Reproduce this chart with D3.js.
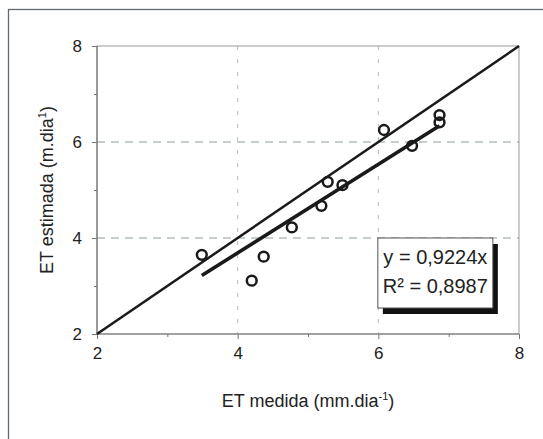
<!DOCTYPE html>
<html>
<head>
<meta charset="utf-8">
<script src="https://cdn.jsdelivr.net/npm/d3@7"></script>
<style>
  body { margin: 0; background: #fff; }
  svg { display: block; font-family: "Liberation Sans", Arial, sans-serif; }
</style>
</head>
<body>
<svg id="chart" width="543" height="439"></svg>
<script>
// ET medida (x) vs ET estimada (y)
var etMedida   = [3.49, 4.20, 4.37, 4.77, 5.19, 5.28, 5.49, 6.08, 6.48, 6.87, 6.87]
var etEstimada = [3.65, 3.11, 3.61, 4.22, 4.67, 5.17, 5.10, 6.25, 5.92, 6.56, 6.41]
var majorTicks = [2, 4, 6, 8]
var minorTicks = [3, 5, 7]
var gridTicks = [4, 6]
var slope = 0.9224
var rSquared = "0,8987"

var svg = d3.select("#chart")
// note: "top" is taken by window.top, so use plot* names
var plotLeft = 97, plotRight = 519, plotTop = 46, plotBottom = 334

var x = d3.scaleLinear().domain([2, 8]).range([plotLeft, plotRight])
var y = d3.scaleLinear().domain([2, 8]).range([plotBottom, plotTop])

// outer chart frame (cut off at right and bottom)
svg.append("rect")
    .attr("x", 8.5).attr("y", 9.5)
    .attr("width", 560).attr("height", 460)
    .attr("fill", "none")
    .attr("stroke", "#5f6b70")
    .attr("stroke-width", 1.3)

// plot area border
svg.append("rect")
    .attr("x", plotLeft).attr("y", plotTop)
    .attr("width", plotRight - plotLeft).attr("height", plotBottom - plotTop)
    .attr("fill", "#fff")
    .attr("stroke", "#9a9a9a")
    .attr("stroke-width", 1)

// gridlines
var grid = svg.append("g").attr("id", "grid")
grid.selectAll("line.h")
    .data(gridTicks)
    .enter()
    .append("line")
    .attr("class", "h")
    .attr("x1", plotLeft).attr("x2", plotRight)
    .attr("y1", function(d) { return y(d) }).attr("y2", function(d) { return y(d) })
    .attr("stroke", "#8a9a9a")
    .attr("stroke-dasharray", "8,6")
grid.selectAll("line.v")
    .data(gridTicks)
    .enter()
    .append("line")
    .attr("class", "v")
    .attr("y1", plotTop).attr("y2", plotBottom)
    .attr("x1", function(d) { return x(d) }).attr("x2", function(d) { return x(d) })
    .attr("stroke", "#b5bcbc")
    .attr("stroke-dasharray", "4,9")

// axes
var fmt = d3.format("d")
var xAxis = d3.axisBottom(x).tickValues(majorTicks).tickFormat(fmt).tickSize(5).tickPadding(8)
var yAxis = d3.axisLeft(y).tickValues(majorTicks).tickFormat(fmt).tickSize(5).tickPadding(10)

function styleAxis(g) {
    g.select(".domain").attr("stroke", "#777").attr("stroke-width", 1.2)
    g.selectAll(".tick line").attr("stroke", "#777")
    g.selectAll(".tick text")
        .attr("fill", "#222")
        .attr("font-size", "17px")
        .attr("font-family", "Liberation Sans, Arial, sans-serif")
}

svg.append("g")
    .attr("transform", "translate(0," + plotBottom + ")")
    .call(xAxis)
    .call(styleAxis)
    .call(function(g) { g.select(".domain").attr("d", "M" + plotLeft + ",0H" + plotRight) })

svg.append("g")
    .attr("transform", "translate(" + plotLeft + ",0)")
    .call(yAxis)
    .call(styleAxis)
    .call(function(g) { g.select(".domain").attr("d", "M0," + plotBottom + "V" + plotTop) })

// minor ticks
svg.append("g")
    .attr("transform", "translate(0," + plotBottom + ")")
    .call(d3.axisBottom(x).tickValues(minorTicks).tickSize(3).tickFormat(""))
    .call(function(g) { g.select(".domain").remove(); g.selectAll("line").attr("stroke", "#777") })
svg.append("g")
    .attr("transform", "translate(" + plotLeft + ",0)")
    .call(d3.axisLeft(y).tickValues(minorTicks).tickSize(3).tickFormat(""))
    .call(function(g) { g.select(".domain").remove(); g.selectAll("line").attr("stroke", "#777") })

// 1:1 line
svg.append("line")
    .attr("x1", x(2)).attr("y1", y(2))
    .attr("x2", x(8)).attr("y2", y(8))
    .attr("stroke", "#1a1a1a")
    .attr("stroke-width", 2.5)

// regression line y = slope * x over the data range
var xr = d3.extent(etMedida)
svg.append("line")
    .attr("x1", x(xr[0])).attr("y1", y(slope * xr[0]))
    .attr("x2", x(xr[1])).attr("y2", y(slope * xr[1]))
    .attr("stroke", "#1a1a1a")
    .attr("stroke-width", 3.6)

// points
svg.append("g")
    .selectAll("circle")
    .data(d3.range(etMedida.length))
    .enter()
    .append("circle")
    .attr("cx", function(i) { return x(etMedida[i]) })
    .attr("cy", function(i) { return y(etEstimada[i]) })
    .attr("r", 4.9)
    .attr("fill", "none")
    .attr("stroke", "#1a1a1a")
    .attr("stroke-width", 2.5)

// equation box with shadow
var bx = x(6.05) - 4, by = y(4), bw = 115, bh = 70
var legend = svg.append("g").attr("id", "legend")
legend.append("rect")
    .attr("x", bx + 5).attr("y", by + 6)
    .attr("width", bw).attr("height", bh)
    .attr("fill", "#111")
legend.append("rect")
    .attr("x", bx).attr("y", by)
    .attr("width", bw).attr("height", bh)
    .attr("fill", "#fff")
    .attr("stroke", "#555")
    .attr("stroke-width", 1)
legend.append("text")
    .attr("x", bx + bw / 2).attr("y", by + 26)
    .attr("text-anchor", "middle")
    .attr("font-size", "20px")
    .attr("fill", "#222")
    .text("y = " + String(slope).replace(".", ",") + "x")
legend.append("text")
    .attr("x", bx + bw / 2).attr("y", by + 55)
    .attr("text-anchor", "middle")
    .attr("font-size", "20px")
    .attr("fill", "#222")
    .text("R² = " + rSquared)

// axis titles
var xt = svg.append("text")
    .attr("x", (plotLeft + plotRight) / 2).attr("y", 407)
    .attr("text-anchor", "middle")
    .attr("font-size", "18px")
    .attr("fill", "#222")
xt.append("tspan").text("ET medida (mm.dia")
xt.append("tspan").attr("dy", -7).attr("font-size", "11px").text("-1")
xt.append("tspan").attr("dy", 7).text(")")

var yt = svg.append("text")
    .attr("transform", "translate(53," + (plotTop + plotBottom) / 2 + ") rotate(-90)")
    .attr("text-anchor", "middle")
    .attr("font-size", "18px")
    .attr("fill", "#222")
yt.append("tspan").text("ET estimada (m.dia")
yt.append("tspan").attr("dy", -7).attr("font-size", "11px").text("1")
yt.append("tspan").attr("dy", 7).text(")")
</script>
</body>
</html>
